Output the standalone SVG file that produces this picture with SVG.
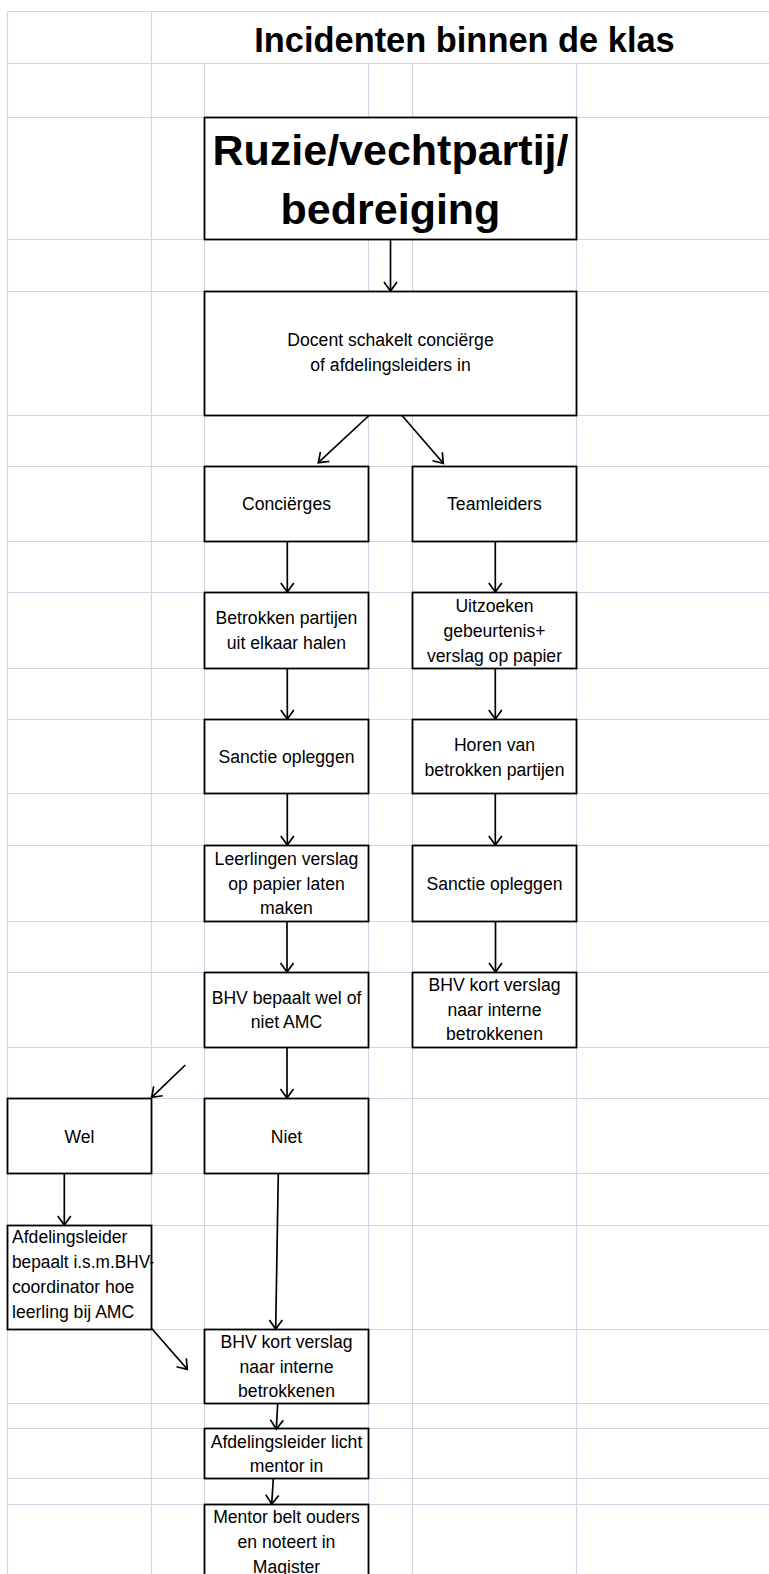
<svg xmlns="http://www.w3.org/2000/svg" width="769" height="1574" viewBox="0 0 769 1574">
<style>
.grid line{stroke:#D0D7E5;stroke-width:1.2}
.box{fill:#fff;stroke:#000;stroke-width:1.8}
.t{font-family:"Liberation Sans",Arial,sans-serif;font-size:17.6px;text-anchor:middle;fill:#000}
.tl{font-family:"Liberation Sans",Arial,sans-serif;font-size:17.6px;text-anchor:start;fill:#000}
.b{font-family:"Liberation Sans",Arial,sans-serif;font-weight:bold;text-anchor:middle;fill:#000}
.conn line{stroke:#000;stroke-width:1.7;fill:none;marker-end:url(#arr)}
</style>
<defs>
<marker id="arr" markerUnits="userSpaceOnUse" markerWidth="12" markerHeight="14" viewBox="0 0 12 14" refX="10" refY="7" orient="auto" overflow="visible">
<path d="M1,0.5 L10,7 L1,13.5" fill="none" stroke="#000" stroke-width="1.7"/>
</marker>
<clipPath id="clipA"><rect x="7.5" y="1225.5" width="146" height="104"/></clipPath>
</defs>
<rect width="769" height="1574" fill="#fff"/>
<g id="grid" class="grid">
<line x1="7.5" y1="11.5" x2="769" y2="11.5"/>
<line x1="7.5" y1="63.5" x2="769" y2="63.5"/>
<line x1="7.5" y1="117.5" x2="769" y2="117.5"/>
<line x1="7.5" y1="239.5" x2="769" y2="239.5"/>
<line x1="7.5" y1="291.5" x2="769" y2="291.5"/>
<line x1="7.5" y1="415.5" x2="769" y2="415.5"/>
<line x1="7.5" y1="466.5" x2="769" y2="466.5"/>
<line x1="7.5" y1="541.5" x2="769" y2="541.5"/>
<line x1="7.5" y1="592.5" x2="769" y2="592.5"/>
<line x1="7.5" y1="668.5" x2="769" y2="668.5"/>
<line x1="7.5" y1="719.5" x2="769" y2="719.5"/>
<line x1="7.5" y1="793.5" x2="769" y2="793.5"/>
<line x1="7.5" y1="845.5" x2="769" y2="845.5"/>
<line x1="7.5" y1="921.5" x2="769" y2="921.5"/>
<line x1="7.5" y1="972.5" x2="769" y2="972.5"/>
<line x1="7.5" y1="1047.5" x2="769" y2="1047.5"/>
<line x1="7.5" y1="1098.5" x2="769" y2="1098.5"/>
<line x1="7.5" y1="1173.5" x2="769" y2="1173.5"/>
<line x1="7.5" y1="1225.5" x2="769" y2="1225.5"/>
<line x1="7.5" y1="1329.5" x2="769" y2="1329.5"/>
<line x1="7.5" y1="1403.5" x2="769" y2="1403.5"/>
<line x1="7.5" y1="1428.5" x2="769" y2="1428.5"/>
<line x1="7.5" y1="1478.5" x2="769" y2="1478.5"/>
<line x1="7.5" y1="1504.5" x2="769" y2="1504.5"/>
<line x1="7.5" y1="11.5" x2="7.5" y2="1574"/>
<line x1="151.5" y1="11.5" x2="151.5" y2="1574"/>
<line x1="204.5" y1="63.5" x2="204.5" y2="1574"/>
<line x1="368.5" y1="63.5" x2="368.5" y2="1574"/>
<line x1="412.5" y1="63.5" x2="412.5" y2="1574"/>
<line x1="576.5" y1="63.5" x2="576.5" y2="1574"/>
</g>
<text id="title" class="b" x="464.5" y="51.7" font-size="34.4">Incidenten binnen de klas</text>
<g id="n-ruzie">
<rect class="box" x="204.5" y="117.5" width="372" height="122"/>
<text class="b" font-size="43"><tspan x="390.5" y="165">Ruzie/vechtpartij/</tspan><tspan x="390.5" y="224">bedreiging</tspan></text>
</g>
<g id="n-docent">
<rect class="box" x="204.5" y="291.5" width="372" height="124"/>
<text class="t"><tspan x="390.5" y="346">Docent schakelt conciërge</tspan><tspan x="390.5" y="370.7">of afdelingsleiders in</tspan></text>
</g>
<g id="n-concierges">
<rect class="box" x="204.5" y="466.5" width="164" height="75"/>
<text class="t" x="286.5" y="510">Conciërges</text>
</g>
<g id="n-teamleiders">
<rect class="box" x="412.5" y="466.5" width="164" height="75"/>
<text class="t" x="494.5" y="510">Teamleiders</text>
</g>
<g id="n-betrokken">
<rect class="box" x="204.5" y="592.5" width="164" height="76"/>
<text class="t"><tspan x="286.5" y="624">Betrokken partijen</tspan><tspan x="286.5" y="649.3">uit elkaar halen</tspan></text>
</g>
<g id="n-uitzoeken">
<rect class="box" x="412.5" y="592.5" width="164" height="76"/>
<text class="t"><tspan x="494.5" y="612.3">Uitzoeken</tspan><tspan x="494.5" y="637.3">gebeurtenis+</tspan><tspan x="494.5" y="662">verslag op papier</tspan></text>
</g>
<g id="n-sanctie-l">
<rect class="box" x="204.5" y="719.5" width="164" height="74"/>
<text class="t" x="286.5" y="762.7">Sanctie opleggen</text>
</g>
<g id="n-horen">
<rect class="box" x="412.5" y="719.5" width="164" height="74"/>
<text class="t"><tspan x="494.5" y="751">Horen van</tspan><tspan x="494.5" y="776">betrokken partijen</tspan></text>
</g>
<g id="n-leerlingen">
<rect class="box" x="204.5" y="845.5" width="164" height="76"/>
<text class="t"><tspan x="286.5" y="865">Leerlingen verslag</tspan><tspan x="286.5" y="890">op papier laten</tspan><tspan x="286.5" y="914">maken</tspan></text>
</g>
<g id="n-sanctie-r">
<rect class="box" x="412.5" y="845.5" width="164" height="76"/>
<text class="t" x="494.5" y="890">Sanctie opleggen</text>
</g>
<g id="n-bhv-bepaalt">
<rect class="box" x="204.5" y="972.5" width="164" height="75"/>
<text class="t"><tspan x="286.5" y="1004">BHV bepaalt wel of</tspan><tspan x="286.5" y="1028.3">niet AMC</tspan></text>
</g>
<g id="n-bhv-kort-r">
<rect class="box" x="412.5" y="972.5" width="164" height="75"/>
<text class="t"><tspan x="494.5" y="991">BHV kort verslag</tspan><tspan x="494.5" y="1015.5">naar interne</tspan><tspan x="494.5" y="1040">betrokkenen</tspan></text>
</g>
<g id="n-wel">
<rect class="box" x="7.5" y="1098.5" width="144" height="75"/>
<text class="t" x="79.5" y="1142.7">Wel</text>
</g>
<g id="n-niet">
<rect class="box" x="204.5" y="1098.5" width="164" height="75"/>
<text class="t" x="286.5" y="1142.7">Niet</text>
</g>
<g id="n-afd-bepaalt">
<rect class="box" x="7.5" y="1225.5" width="144" height="104"/>
<text class="tl" clip-path="url(#clipA)"><tspan x="12" y="1243.3">Afdelingsleider</tspan><tspan x="12" y="1268.3" textLength="143" lengthAdjust="spacingAndGlyphs">bepaalt i.s.m.BHV-</tspan><tspan x="12" y="1293.3">coordinator hoe</tspan><tspan x="12" y="1318.3">leerling bij AMC</tspan></text>
</g>
<g id="n-bhv-kort-l">
<rect class="box" x="204.5" y="1329.5" width="164" height="74"/>
<text class="t"><tspan x="286.5" y="1348.3">BHV kort verslag</tspan><tspan x="286.5" y="1372.7">naar interne</tspan><tspan x="286.5" y="1397.3">betrokkenen</tspan></text>
</g>
<g id="n-afd-licht">
<rect class="box" x="204.5" y="1428.5" width="164" height="50"/>
<text class="t"><tspan x="286.5" y="1447.5">Afdelingsleider licht</tspan><tspan x="286.5" y="1472">mentor in</tspan></text>
</g>
<g id="n-mentor">
<rect class="box" x="204.5" y="1504.5" width="164" height="100"/>
<text class="t"><tspan x="286.5" y="1523.3">Mentor belt ouders</tspan><tspan x="286.5" y="1547.7">en noteert in</tspan><tspan x="286.5" y="1573">Magister</tspan></text>
</g>
<g id="connectors" class="conn">
<line x1="390.5" y1="240" x2="390.5" y2="291"/>
<line x1="369" y1="415.5" x2="318.3" y2="462.7"/>
<line x1="402" y1="415.5" x2="443.3" y2="463.3"/>
<line x1="287.3" y1="541.5" x2="287.3" y2="592"/>
<line x1="495.3" y1="541.5" x2="495.3" y2="592"/>
<line x1="287.3" y1="668.5" x2="287.3" y2="719"/>
<line x1="495.3" y1="668.5" x2="495.3" y2="719"/>
<line x1="287.3" y1="793.5" x2="287.3" y2="845"/>
<line x1="495.3" y1="793.5" x2="495.3" y2="845"/>
<line x1="495.5" y1="921.5" x2="495.5" y2="972"/>
<line x1="287" y1="921.5" x2="287" y2="972"/>
<line x1="287" y1="1047.5" x2="287" y2="1098"/>
<line x1="185.3" y1="1065" x2="151.7" y2="1097.3"/>
<line x1="64.3" y1="1173.5" x2="64.3" y2="1225"/>
<line x1="278.3" y1="1173.5" x2="275.7" y2="1329"/>
<line x1="151.7" y1="1328.5" x2="187.3" y2="1369.3"/>
<line x1="277.7" y1="1403.5" x2="276.3" y2="1429"/>
<line x1="273.3" y1="1478.5" x2="271.7" y2="1504"/>
</g>
</svg>
